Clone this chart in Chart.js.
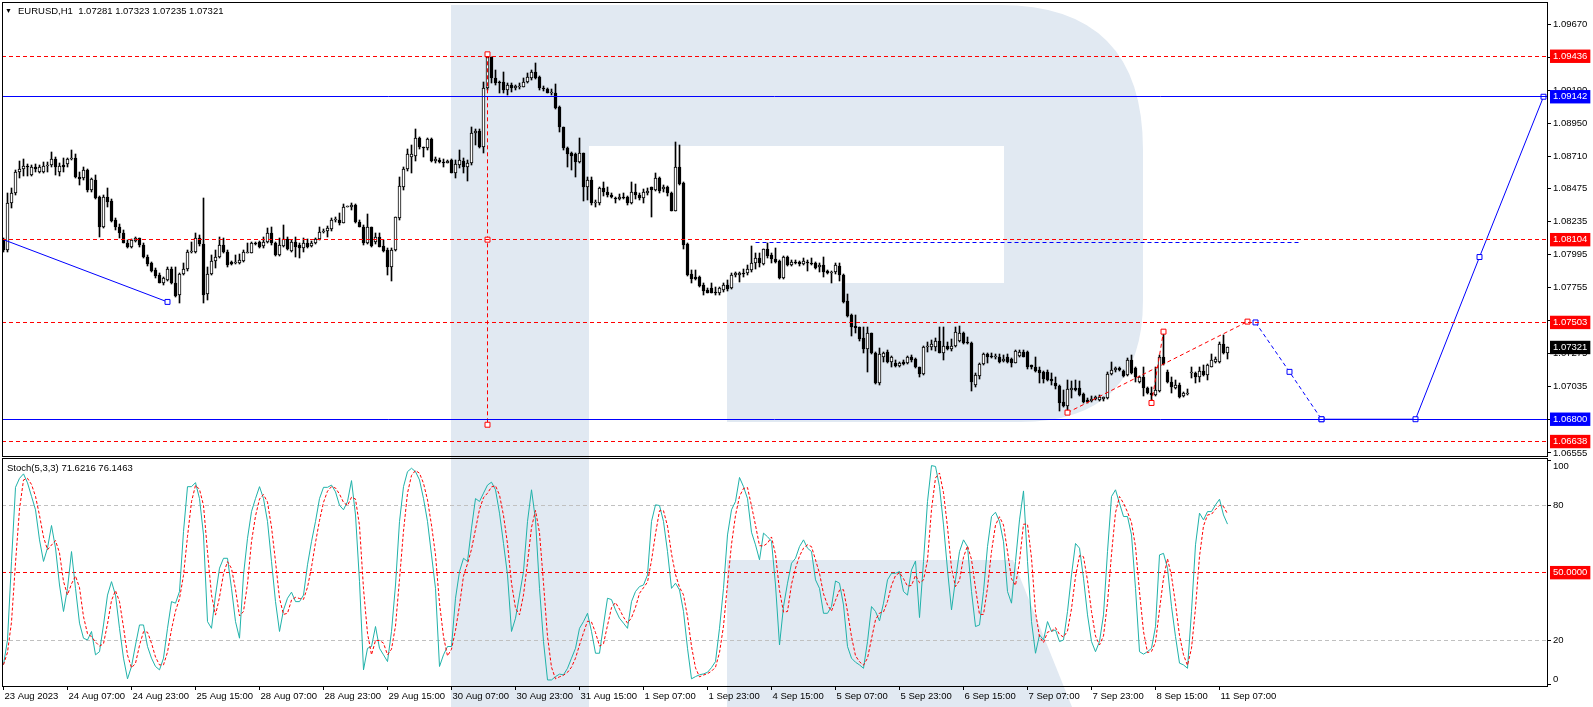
<!DOCTYPE html>
<html>
<head>
<meta charset="utf-8">
<title>EURUSD,H1</title>
<script src="https://cdn.jsdelivr.net/npm/chart.js"></script>
<style>
  body { margin: 0; background: #fff; overflow: hidden; }
  #wrap { position: relative; width: 1593px; height: 707px; }
  canvas { position: absolute; left: 0; }
  #main { top: 0; }
  #stoch { top: 450px; }
  .hdr { position: absolute; font: 9.5px 'Liberation Sans', Arial, sans-serif; line-height: 11px; color: #000; white-space: pre; }
  .tri { font-size: 7px; }
</style>
</head>
<body>
<div id="wrap">
  <canvas id="main" width="1593" height="457"></canvas>
  <canvas id="stoch" width="1593" height="257"></canvas>
  <div class="hdr tri" style="left:5px;top:5px">▼</div>
  <div class="hdr" style="left:18px;top:5px">EURUSD,H1  1.07281 1.07323 1.07235 1.07321</div>
  <div class="hdr" style="left:7px;top:462px">Stoch(5,3,3) 71.6216 76.1463</div>
</div>
<script>
// time axis labels, one every 16 hourly bars
const tickLabels = ['23 Aug 2023', '24 Aug 07:00', '24 Aug 23:00', '25 Aug 15:00', '28 Aug 07:00',
  '28 Aug 23:00', '29 Aug 15:00', '30 Aug 07:00', '30 Aug 23:00', '31 Aug 15:00', '1 Sep 07:00',
  '1 Sep 23:00', '4 Sep 15:00', '5 Sep 07:00', '5 Sep 23:00', '6 Sep 15:00', '7 Sep 07:00',
  '7 Sep 23:00', '8 Sep 15:00', '11 Sep 07:00'];

// EURUSD H1 candles
const openP = [
  1.08102,1.08030,1.08368,1.08441,1.08598,1.08615,1.08640,1.08574,1.08632,1.08598,
  1.08598,1.08640,1.08647,1.08688,1.08598,1.08647,1.08654,1.08688,1.08695,1.08562,
  1.08550,1.08610,1.08465,1.08538,1.08417,1.08194,1.08412,1.08385,1.08248,1.08199,
  1.08156,1.08082,1.08049,1.08097,1.08114,1.08066,1.07981,1.07938,1.07884,1.07848,
  1.07792,1.07812,1.07889,1.07792,1.07703,1.07855,1.07889,1.08017,1.08017,1.08114,
  1.08073,1.07710,1.07855,1.07952,1.07981,1.08066,1.08017,1.07945,1.07933,1.07933,
  1.07952,1.08010,1.08010,1.08082,1.08090,1.08059,1.08090,1.08151,1.08078,1.07993,
  1.08059,1.08107,1.08025,1.08090,1.08066,1.08042,1.08082,1.08059,1.08078,1.08107,
  1.08163,1.08170,1.08180,1.08248,1.08248,1.08228,1.08344,1.08344,1.08356,1.08235,
  1.08199,1.08078,1.08194,1.08090,1.08126,1.08059,1.08030,1.07909,1.08030,1.08260,
  1.08485,1.08615,1.08707,1.08712,1.08840,1.08775,1.08768,1.08833,1.08678,1.08683,
  1.08671,1.08664,1.08682,1.08590,1.08646,1.08677,1.08634,1.08658,1.08876,1.08895,
  1.08774,1.09202,1.09432,1.09275,1.09251,1.09251,1.09190,1.09227,1.09202,1.09215,
  1.09215,1.09251,1.09275,1.09324,1.09287,1.09205,1.09195,1.09171,1.09171,1.09069,
  1.08919,1.08767,1.08735,1.08726,1.08670,1.08731,1.08484,1.08537,1.08368,1.08368,
  1.08477,1.08452,1.08428,1.08404,1.08397,1.08416,1.08416,1.08368,1.08452,1.08428,
  1.08404,1.08445,1.08484,1.08464,1.08549,1.08469,1.08484,1.08445,1.08314,1.08634,
  1.08513,1.08073,1.07855,1.07831,1.07836,1.07775,1.07739,1.07751,1.07727,1.07719,
  1.07739,1.07775,1.07751,1.07848,1.07848,1.07865,1.07860,1.07884,1.07932,1.07969,
  1.07928,1.08034,1.07993,1.07961,1.07952,1.07823,1.07976,1.07920,1.07945,1.07945,
  1.07925,1.07945,1.07937,1.07937,1.07903,1.07920,1.07879,1.07860,1.07872,1.07913,
  1.07848,1.07661,1.07557,1.07477,1.07468,1.07388,1.07308,1.07424,1.07284,1.07061,
  1.07250,1.07291,1.07219,1.07211,1.07187,1.07219,1.07206,1.07255,1.07235,1.07177,
  1.07129,1.07323,1.07323,1.07327,1.07371,1.07279,1.07332,1.07308,1.07332,1.07371,
  1.07424,1.07360,1.07352,1.07049,1.07114,1.07202,1.07274,1.07260,1.07250,1.07250,
  1.07226,1.07250,1.07235,1.07211,1.07260,1.07291,1.07291,1.07192,1.07182,1.07158,
  1.07146,1.07146,1.07090,1.07061,1.07042,1.06928,1.06897,1.07013,1.07025,1.07025,
  1.06984,1.06940,1.06935,1.06945,1.06940,1.06945,1.06952,1.07129,1.07158,1.07170,
  1.07153,1.07122,1.07231,1.07170,1.07073,1.07110,1.07025,1.06988,1.06976,1.07007,
  1.07250,1.07146,1.07073,1.07025,1.07049,1.06969,1.06984,1.07134,1.07134,1.07105,
  1.07153,1.07122,1.07182,1.07219,1.07219,1.07347,1.07281];
const highP = [
  1.08114,1.08441,1.08477,1.08610,1.08678,1.08688,1.08654,1.08647,1.08654,1.08647,
  1.08671,1.08671,1.08739,1.08707,1.08659,1.08695,1.08695,1.08756,1.08727,1.08598,
  1.08632,1.08615,1.08550,1.08574,1.08422,1.08429,1.08477,1.08397,1.08260,1.08218,
  1.08175,1.08102,1.08107,1.08126,1.08119,1.08078,1.07993,1.07945,1.07897,1.07860,
  1.07836,1.07909,1.07904,1.07909,1.07865,1.07933,1.08030,1.08090,1.08151,1.08139,
  1.08405,1.07909,1.07993,1.08030,1.08122,1.08114,1.08030,1.07952,1.07993,1.08001,
  1.08030,1.08082,1.08090,1.08090,1.08097,1.08126,1.08187,1.08194,1.08090,1.08114,
  1.08211,1.08126,1.08102,1.08126,1.08082,1.08114,1.08107,1.08097,1.08114,1.08194,
  1.08180,1.08204,1.08260,1.08272,1.08296,1.08364,1.08352,1.08368,1.08361,1.08248,
  1.08211,1.08291,1.08199,1.08151,1.08151,1.08102,1.08042,1.08042,1.08272,1.08562,
  1.08632,1.08760,1.08792,1.08906,1.08848,1.08780,1.08840,1.08840,1.08707,1.08695,
  1.08688,1.08683,1.08687,1.08682,1.08755,1.08694,1.08682,1.08924,1.08905,1.08905,
  1.09251,1.09436,1.09434,1.09336,1.09255,1.09324,1.09239,1.09239,1.09227,1.09239,
  1.09275,1.09311,1.09336,1.09389,1.09292,1.09219,1.09202,1.09195,1.09234,1.09074,
  1.08924,1.08779,1.08743,1.08731,1.08839,1.08735,1.08561,1.08561,1.08392,1.08489,
  1.08525,1.08489,1.08440,1.08416,1.08435,1.08440,1.08421,1.08525,1.08508,1.08440,
  1.08469,1.08477,1.08489,1.08585,1.08556,1.08501,1.08493,1.08452,1.08815,1.08791,
  1.08520,1.08078,1.07884,1.07884,1.07840,1.07787,1.07751,1.07787,1.07758,1.07763,
  1.07787,1.07811,1.07860,1.07872,1.07872,1.07889,1.07920,1.08058,1.08005,1.08005,
  1.08039,1.08078,1.08010,1.08041,1.07957,1.07986,1.07986,1.07957,1.07957,1.07952,
  1.07969,1.07957,1.07969,1.07945,1.07932,1.07981,1.07884,1.07879,1.07932,1.07932,
  1.07855,1.07710,1.07565,1.07557,1.07473,1.07468,1.07468,1.07429,1.07291,1.07315,
  1.07291,1.07303,1.07260,1.07231,1.07219,1.07231,1.07260,1.07267,1.07243,1.07182,
  1.07332,1.07364,1.07376,1.07388,1.07473,1.07473,1.07364,1.07381,1.07473,1.07477,
  1.07436,1.07400,1.07364,1.07134,1.07211,1.07284,1.07284,1.07284,1.07274,1.07274,
  1.07267,1.07274,1.07243,1.07303,1.07303,1.07303,1.07298,1.07194,1.07250,1.07182,
  1.07153,1.07158,1.07134,1.07110,1.07049,1.07013,1.07085,1.07081,1.07085,1.07081,
  1.06988,1.06952,1.06969,1.06969,1.06976,1.06964,1.07146,1.07219,1.07182,1.07177,
  1.07158,1.07243,1.07267,1.07182,1.07114,1.07177,1.07037,1.07037,1.07182,1.07267,
  1.07440,1.07158,1.07110,1.07085,1.07061,1.07000,1.07018,1.07182,1.07146,1.07182,
  1.07194,1.07202,1.07274,1.07250,1.07364,1.07412,1.07323];
const lowP = [
  1.08017,1.08017,1.08332,1.08429,1.08550,1.08567,1.08567,1.08567,1.08598,1.08586,
  1.08586,1.08598,1.08632,1.08574,1.08567,1.08598,1.08632,1.08683,1.08550,1.08502,
  1.08538,1.08453,1.08453,1.08397,1.08126,1.08187,1.08344,1.08235,1.08175,1.08114,
  1.08078,1.08042,1.08042,1.08090,1.08054,1.07969,1.07913,1.07870,1.07824,1.07788,
  1.07776,1.07807,1.07783,1.07686,1.07647,1.07848,1.07880,1.08010,1.08005,1.08059,
  1.07642,1.07667,1.07848,1.07897,1.07969,1.08005,1.07904,1.07921,1.07928,1.07928,
  1.07945,1.08005,1.08005,1.08066,1.08042,1.08042,1.08082,1.08066,1.07986,1.07986,
  1.08049,1.08030,1.08017,1.07981,1.07969,1.08017,1.08042,1.08049,1.08073,1.08102,
  1.08156,1.08122,1.08170,1.08235,1.08211,1.08223,1.08339,1.08320,1.08228,1.08194,
  1.08066,1.08073,1.08054,1.08073,1.08049,1.08017,1.07848,1.07807,1.08025,1.08248,
  1.08465,1.08606,1.08591,1.08678,1.08760,1.08707,1.08756,1.08671,1.08659,1.08664,
  1.08630,1.08659,1.08585,1.08549,1.08622,1.08585,1.08532,1.08646,1.08791,1.08767,
  1.08735,1.09190,1.09239,1.09227,1.09166,1.09171,1.09154,1.09178,1.09190,1.09195,
  1.09210,1.09244,1.09263,1.09268,1.09190,1.09186,1.09166,1.09154,1.09050,1.08888,
  1.08755,1.08634,1.08610,1.08561,1.08658,1.08387,1.08392,1.08356,1.08339,1.08356,
  1.08421,1.08416,1.08404,1.08368,1.08392,1.08397,1.08356,1.08363,1.08397,1.08392,
  1.08368,1.08428,1.08271,1.08460,1.08445,1.08452,1.08421,1.08314,1.08314,1.08500,
  1.08034,1.07840,1.07787,1.07811,1.07763,1.07703,1.07715,1.07715,1.07703,1.07703,
  1.07727,1.07734,1.07746,1.07831,1.07799,1.07836,1.07848,1.07872,1.07889,1.07903,
  1.07920,1.07969,1.07937,1.07932,1.07819,1.07819,1.07913,1.07915,1.07928,1.07913,
  1.07920,1.07879,1.07923,1.07889,1.07872,1.07836,1.07855,1.07792,1.07855,1.07807,
  1.07647,1.07540,1.07405,1.07424,1.07371,1.07279,1.07146,1.07274,1.07056,1.07049,
  1.07219,1.07211,1.07182,1.07182,1.07182,1.07194,1.07202,1.07219,1.07170,1.07110,
  1.07122,1.07291,1.07303,1.07298,1.07279,1.07231,1.07303,1.07298,1.07323,1.07364,
  1.07347,1.07347,1.07007,1.07037,1.07090,1.07194,1.07211,1.07243,1.07235,1.07211,
  1.07219,1.07211,1.07182,1.07206,1.07250,1.07250,1.07168,1.07163,1.07143,1.07066,
  1.07061,1.07081,1.07049,1.07018,1.06860,1.06892,1.06848,1.06952,1.07007,1.06969,
  1.06921,1.06921,1.06928,1.06940,1.06935,1.06935,1.06945,1.07122,1.07146,1.07153,
  1.07110,1.07114,1.07129,1.07073,1.07066,1.06969,1.06984,1.06904,1.06969,1.07000,
  1.07194,1.07061,1.06993,1.07018,1.06952,1.06960,1.06976,1.07098,1.07066,1.07073,
  1.07114,1.07085,1.07177,1.07211,1.07206,1.07274,1.07235];
const closeP = [
  1.08030,1.08368,1.08441,1.08598,1.08615,1.08640,1.08630,1.08632,1.08615,1.08630,
  1.08640,1.08647,1.08688,1.08632,1.08640,1.08632,1.08688,1.08695,1.08557,1.08543,
  1.08610,1.08465,1.08543,1.08405,1.08199,1.08417,1.08380,1.08243,1.08199,1.08151,
  1.08082,1.08049,1.08102,1.08114,1.08066,1.07981,1.07928,1.07880,1.07841,1.07792,
  1.07824,1.07889,1.07792,1.07696,1.07855,1.07889,1.08017,1.08025,1.08114,1.08073,
  1.07703,1.07855,1.07952,1.07981,1.08066,1.08017,1.07921,1.07928,1.07945,1.07957,
  1.08017,1.08017,1.08082,1.08073,1.08054,1.08090,1.08151,1.08078,1.07993,1.08066,
  1.08107,1.08034,1.08090,1.08049,1.08042,1.08082,1.08054,1.08078,1.08107,1.08163,
  1.08170,1.08187,1.08248,1.08252,1.08223,1.08344,1.08349,1.08356,1.08235,1.08199,
  1.08078,1.08194,1.08059,1.08122,1.08054,1.08025,1.07909,1.08030,1.08267,1.08494,
  1.08615,1.08727,1.08727,1.08840,1.08775,1.08768,1.08833,1.08678,1.08688,1.08671,
  1.08664,1.08678,1.08590,1.08653,1.08682,1.08634,1.08663,1.08876,1.08895,1.08774,
  1.09202,1.09432,1.09275,1.09244,1.09244,1.09190,1.09227,1.09202,1.09219,1.09219,
  1.09251,1.09287,1.09324,1.09275,1.09202,1.09195,1.09171,1.09180,1.09057,1.08919,
  1.08767,1.08726,1.08711,1.08670,1.08731,1.08484,1.08537,1.08368,1.08380,1.08477,
  1.08452,1.08428,1.08411,1.08397,1.08411,1.08404,1.08368,1.08452,1.08428,1.08404,
  1.08452,1.08460,1.08464,1.08549,1.08460,1.08484,1.08445,1.08314,1.08634,1.08508,
  1.08065,1.07848,1.07816,1.07816,1.07768,1.07734,1.07719,1.07719,1.07719,1.07751,
  1.07775,1.07744,1.07848,1.07860,1.07865,1.07855,1.07889,1.07937,1.07969,1.07932,
  1.08034,1.07986,1.07961,1.07945,1.07823,1.07976,1.07920,1.07945,1.07937,1.07928,
  1.07952,1.07932,1.07928,1.07896,1.07920,1.07872,1.07860,1.07872,1.07920,1.07848,
  1.07654,1.07550,1.07468,1.07461,1.07381,1.07308,1.07424,1.07279,1.07066,1.07274,
  1.07279,1.07219,1.07250,1.07187,1.07211,1.07202,1.07255,1.07231,1.07177,1.07129,
  1.07327,1.07332,1.07347,1.07371,1.07284,1.07332,1.07308,1.07332,1.07436,1.07429,
  1.07356,1.07352,1.07073,1.07122,1.07202,1.07274,1.07255,1.07250,1.07260,1.07219,
  1.07240,1.07219,1.07211,1.07298,1.07291,1.07255,1.07177,1.07177,1.07153,1.07134,
  1.07090,1.07085,1.07081,1.07042,1.06921,1.06897,1.07018,1.07025,1.07013,1.06976,
  1.06928,1.06928,1.06945,1.06960,1.06960,1.06960,1.07129,1.07158,1.07170,1.07158,
  1.07114,1.07231,1.07134,1.07110,1.07110,1.07025,1.06988,1.06976,1.07013,1.07250,
  1.07202,1.07073,1.07032,1.07049,1.06964,1.06988,1.06993,1.07146,1.07105,1.07153,
  1.07122,1.07194,1.07231,1.07235,1.07347,1.07279,1.07321];

// Stochastic(5,3,3): main line and signal line
const stochK = [
  9,20,55,88,92,94,90,84,78,64.6,
  55,61,71,61,44.5,32.7,43,59.4,43,27.5,
  20.8,20,23.8,13.4,14.8,26.7,40,46,40,25.2,
  11.9,2.7,8.2,17.8,26.7,26.7,17.1,11.9,8.2,6.7,
  11.9,25.2,37.1,36.4,41.6,68.3,88.3,88.3,90.1,83,
  66.8,28.2,25.2,40,52,56.4,56.4,43,28.2,20.8,
  49,65.3,77.2,83,88.3,83,72.8,55,37.1,23.8,
  33.4,38.6,41.3,37.1,37.1,40,53.5,63.8,72.8,83,
  88,88,89,86,80,78,81.7,91,75.7,46,
  6.7,16.3,17.1,26,16.3,13.4,10.4,23.8,44.5,72.8,
  88.3,95,96.5,95,91.3,83,72.8,57.9,43,8.2,
  13.4,17.1,17.1,38.6,50.5,56.4,55,69.8,83,81.7,
  85.4,89,90.3,86.9,76.5,63,49,23.8,29.7,40,
  50.5,72.8,86.9,73.5,43,19.3,2.2,2.2,3.7,4.8,
  4.5,7.4,11.9,16.3,25.2,28.2,31.9,23.8,14.1,14.1,
  26.7,38.6,38,33.4,29.7,27.5,25.2,37.1,41.6,43.8,
  44.5,49,72.8,80.2,79.9,72.8,59.4,43,45.3,42.3,
  32.7,16.3,2.7,3.7,4.5,4.9,5.6,7.7,10.4,25.2,
  43,66.8,78,81.7,92.4,88.3,83,68,62.4,55.7,
  67.6,66,64,44.5,17.8,34.9,45.3,54.2,56.4,61.6,
  64.6,60.9,59.4,46.8,43,31.9,31.9,34.9,46.3,45.3,
  35.6,17.1,11.9,10.1,8.9,7.4,19.3,34.9,32.7,28.5,
  36.4,46.8,49.7,49.7,50.5,41.6,40,51.2,55.2,30,
  55,81.7,97.7,97.3,88.3,71.3,51.2,33.4,46.8,59.4,
  64.6,61.6,41.6,26,26.7,41.6,61.6,75,76.9,72.8,
  63.8,41.6,36.4,55,73.5,86.4,55,28.2,14.1,22.3,
  20,28.2,23.8,24.5,19.3,20,32.7,49,63,60.9,
  47.5,31.2,19.3,14.8,19.3,31.2,59.4,83.9,86.9,80.9,
  75,75,66.8,43,14.8,13.7,14.8,16.3,26,57.9,
  58.6,52,34.9,21.5,9.7,8.9,7.4,32.7,62.4,76.5,
  73.5,77.2,77.2,80.2,82.7,75.7,71.62];
const stochD = [
  9,14.5,28,54.3,78.3,91.3,92,89.3,84,75.5,
  65.9,60.2,62.3,64.3,58.8,46.1,40.1,45,48.5,43.3,
  30.4,22.8,21.5,19.1,17.3,18.3,27.2,37.6,42,37.1,
  25.7,13.3,7.6,9.6,17.6,23.7,23.5,18.6,12.4,8.9,
  8.9,14.6,24.7,32.9,38.4,48.8,66.1,81.6,88.9,87.1,
  80,59.3,40.1,31.1,39.1,49.5,54.9,51.9,42.5,30.7,
  32.7,45,63.8,75.2,82.8,84.8,81.4,70.3,55,38.6,
  31.4,31.9,37.8,39,38.5,38.1,43.5,52.4,63.4,73.2,
  81.3,86.3,88.3,87.7,85,81.3,79.9,83.6,82.8,70.9,
  42.8,23,13.4,19.8,19.8,18.6,13.4,15.9,26.2,47,
  68.5,85.4,93.3,95.5,94.3,89.8,82.4,71.2,57.9,36.4,
  21.5,12.9,15.9,24.3,35.4,48.5,54,60.4,69.3,78.2,
  83.4,85.4,88.2,88.7,84.6,75.5,62.8,45.3,34.2,31.2,
  40.1,54.4,70.1,77.7,67.8,45.3,21.5,7.9,2.7,3.6,
  4.3,5.6,7.9,11.9,17.8,23.2,28.4,28,23.3,17.3,
  18.3,26.5,34.4,36.7,33.7,30.2,27.5,29.9,34.6,40.8,
  43.3,45.8,55.4,67.3,77.6,77.6,70.7,58.4,49.2,43.5,
  40.1,30.4,17.2,7.6,3.6,4.4,5,6.1,7.9,14.4,
  26.2,45,62.6,75.5,84,87.5,87.9,79.8,71.1,62,
  61.9,63.1,65.9,58.2,42.1,32.4,32.7,44.8,52,57.4,
  60.9,62.4,61.6,55.7,49.7,40.6,35.6,32.9,37.7,42.2,
  42.4,32.7,21.5,13,10.3,8.8,11.9,20.5,29,32,
  32.5,37.2,44.3,48.7,50,47.3,44,44.3,48.8,45.5,
  46.7,55.6,78.1,92.2,94.4,85.6,70.3,52,43.8,46.5,
  56.9,61.9,55.9,43.1,31.4,31.4,43.3,59.4,71.2,74.9,
  71.2,59.4,47.3,44.3,55,71.6,71.6,56.5,32.4,21.5,
  18.8,23.5,24,25.5,22.5,21.3,24,33.9,48.2,57.6,
  57.1,46.5,32.7,21.8,17.8,21.8,36.6,58.2,76.7,83.9,
  80.9,77,72.3,61.6,41.5,23.8,14.4,14.9,19,33.4,
  47.5,56.2,48.5,36.1,22,13.4,8.7,16.3,34.2,57.2,
  70.8,75.7,76,78.2,80,79.5,76.15];

// price scale ticks and the marked levels shown on it
const priceTicks = [1.09670, 1.09430, 1.09190, 1.08950, 1.08710, 1.08475, 1.08235,
  1.07995, 1.07755, 1.07515, 1.07275, 1.07035, 1.06795, 1.06555];
const levelPrices = [1.09436, 1.09142, 1.08104, 1.07503, 1.07321, 1.06800, 1.06638];
const levelColors = ['#ff0000', '#0000ff', '#ff0000', '#ff0000', '#000000', '#0000ff', '#ff0000'];

// drawn objects: [bar index, price]
const redLevels = [1.09436, 1.08104, 1.07503, 1.06638];
const blueLevels = [1.09142, 1.06800];
const blueDashLevel = [[188, 1.08080], [324, 1.08080]];
const trendBlue = [[0, 1.08104], [41, 1.07652]];
const vertRed = [[121, 1.09450], [121, 1.08104], [121, 1.06760]];
const trendRed = [[266, 1.06848], [311, 1.07509]];
const spikeRed = [[287, 1.06918], [290, 1.07436]];
const projDash = [[313, 1.07503], [321.5, 1.07144], [329.5, 1.06800]];
const projSolid = [[329.5, 1.06800], [353, 1.06800], [369, 1.07978], [385, 1.09142]];

const stochTicks = [100, 80, 20, 0];
const stochLevels = [80, 20];
const stochMid = 50;

const xMin = -0.375, xMax = 385.875;
const font = { family: "'Liberation Sans', Arial, sans-serif", size: 9.5 };
const RED = '#ff0000', BLUE = '#0000ff';

function pts(arr) { return arr.map(p => ({ x: p[0], y: p[1] })); }
function hLine(v) { return [{ x: xMin, y: v }, { x: xMax, y: v }]; }
function noPad(s) { s.paddingTop = 0; s.paddingBottom = 0; s.paddingLeft = 0; s.paddingRight = 0; }

function lineSet(data, color, dash, marks) {
  return {
    type: 'line', data: data, borderColor: color, borderWidth: 1, borderDash: dash || [],
    pointRadius: marks || 0, pointStyle: 'rect', pointBackgroundColor: '#fff',
    pointBorderColor: color, pointBorderWidth: 1, tension: 0, order: 0
  };
}
function levelSet(v, color, dash) {
  return Object.assign(lineSet(hLine(v), color, dash), { snapLine: true });
}

// the terminal draws on whole pixels: snap level lines and candle ends
const crisp = {
  id: 'crisp',
  afterDatasetsUpdate(chart) {
    chart.data.datasets.forEach((ds, i) => {
      const meta = chart.getDatasetMeta(i);
      if (ds.snapLine) meta.data.forEach(p => { p.y = Math.floor(p.y) + 0.5; });
      if (ds.snapBar) meta.data.forEach(b => {
        const t = Math.round(Math.min(b.y, b.base));
        let u = Math.round(Math.max(b.y, b.base));
        if (u - t < 1) u = t + 1;
        b.y = t; b.base = u;
      });
    });
  }
};

// background, RoboForex style watermark and panel frame
function panelPlugin(offY, fromY) {
  return {
    id: 'panel' + offY,
    beforeDraw(chart) {
      const ctx = chart.ctx;
      ctx.save();
      ctx.beginPath();
      ctx.rect(0, fromY, chart.width, chart.height - fromY);
      ctx.clip();
      ctx.fillStyle = '#fff';
      ctx.fillRect(0, 0, chart.width, chart.height);
      ctx.translate(0, -offY);
      ctx.fillStyle = '#e1e9f2';
      ctx.fillRect(451, 5, 138, 702);
      ctx.beginPath();
      ctx.moveTo(589, 5);
      ctx.lineTo(1000, 5);
      ctx.quadraticCurveTo(1143, 5, 1143, 150);
      ctx.lineTo(1143, 300);
      ctx.quadraticCurveTo(1143, 422, 1020, 422);
      ctx.lineTo(727, 422);
      ctx.lineTo(727, 283);
      ctx.lineTo(1004, 283);
      ctx.lineTo(1004, 146);
      ctx.lineTo(589, 146);
      ctx.closePath();
      ctx.fill();
      ctx.beginPath();
      ctx.moveTo(727, 560);
      ctx.lineTo(1013, 560);
      ctx.lineTo(1072, 707);
      ctx.lineTo(727, 707);
      ctx.closePath();
      ctx.fill();
      ctx.restore();
    },
    afterDraw(chart) {
      const a = chart.chartArea, ctx = chart.ctx;
      ctx.save();
      ctx.strokeStyle = '#000';
      ctx.lineWidth = 1;
      ctx.strokeRect(a.left + 0.5, a.top + 0.5, a.right - a.left, a.bottom - a.top);
      ctx.restore();
    }
  };
}

// candles: wick bar behind a body bar
const wickData = openP.map((o, i) => ({ x: i, y: [lowP[i], highP[i]] }));
const bodyData = openP.map((o, i) => ({ x: i, y: [o, closeP[i]] }));
const bodyFill = openP.map((o, i) => closeP[i] >= o ? '#ffffff' : '#000000');

const mainSets = [];
redLevels.forEach(v => mainSets.push(levelSet(v, RED, [4, 3])));
blueLevels.forEach(v => mainSets.push(levelSet(v, BLUE)));
mainSets.push(Object.assign(lineSet(pts(blueDashLevel), BLUE, [4, 3]), { snapLine: true }));
const tb = lineSet(pts(trendBlue), BLUE);
tb.pointRadius = [0, 3.5];
mainSets.push(tb);
mainSets.push(lineSet(pts(vertRed), RED, [4, 3], 3.5));
mainSets.push(lineSet(pts(trendRed), RED, [4, 3], 3.5));
mainSets.push(lineSet(pts(spikeRed), RED, [4, 3], 3.5));
mainSets.push(lineSet(pts(projDash), BLUE, [4, 3], 3.5));
mainSets.push(lineSet(pts(projSolid), BLUE, [], 3.5));
mainSets.push({
  type: 'bar', data: bodyData, backgroundColor: bodyFill, borderColor: '#000', borderWidth: 1,
  borderSkipped: false, barThickness: 3, minBarLength: 1, grouped: false, order: 1, snapBar: true
});
mainSets.push({
  type: 'bar', data: wickData, backgroundColor: '#000', borderWidth: 0,
  barThickness: 1, grouped: false, order: 2, snapBar: true
});

const nPlain = priceTicks.length;
new Chart(document.getElementById('main'), {
  type: 'bar',
  data: { datasets: mainSets },
  options: {
    responsive: false, animation: false, events: [],
    layout: { autoPadding: false, padding: { left: 2, top: 2, right: 0, bottom: 1 } },
    plugins: { legend: { display: false }, tooltip: { enabled: false } },
    scales: {
      x: { type: 'linear', min: xMin, max: xMax, offset: false, display: false },
      y: {
        type: 'linear', position: 'right', min: 1.06533, max: 1.09830,
        afterFit(s) { s.width = 46; noPad(s); },
        afterBuildTicks(s) { s.ticks = priceTicks.concat(levelPrices).map(v => ({ value: v })); },
        grid: {
          drawOnChartArea: false, tickLength: 4, color: '#000',
          tickColor: c => c.index < nPlain ? '#000' : 'rgba(0,0,0,0)'
        },
        border: { display: false },
        ticks: {
          autoSkip: false, padding: 2, font: font,
          color: c => c.index < nPlain ? '#000' : '#fff',
          callback: v => v.toFixed(5),
          showLabelBackdrop: c => c.index >= nPlain,
          backdropColor: c => levelColors[c.index - nPlain] || 'rgba(0,0,0,0)',
          backdropPadding: { x: 3, y: 1 }
        }
      }
    }
  },
  plugins: [panelPlugin(0, 0), crisp]
});

const stochSets = [];
stochSets.push({
  type: 'line', data: stochD.map((v, i) => ({ x: i, y: v })), borderColor: RED, borderWidth: 1,
  borderDash: [3, 2], pointRadius: 0, tension: 0, order: 0
});
stochSets.push({
  type: 'line', data: stochK.map((v, i) => ({ x: i, y: v })), borderColor: '#20b2aa', borderWidth: 1,
  pointRadius: 0, tension: 0, order: 1
});
stochLevels.forEach(v => stochSets.push(Object.assign(levelSet(v, '#c0c0c0', [4, 3]), { order: 2 })));
stochSets.push(Object.assign(levelSet(stochMid, RED, [4, 3]), { order: 2 }));

// top and bottom scale labels sit inside the panel, as in the terminal
function stochLabel(v) {
  if (v === stochMid) return stochMid.toFixed(4);
  if (v === 100) return ['', '100'];
  if (v === 0) return ['0', ''];
  return String(v);
}

const nStoch = stochTicks.length;
new Chart(document.getElementById('stoch'), {
  type: 'line',
  data: { datasets: stochSets },
  options: {
    responsive: false, animation: false, events: [],
    layout: { autoPadding: false, padding: { left: 2, top: 8, right: 0, bottom: 0 } },
    plugins: { legend: { display: false }, tooltip: { enabled: false } },
    scales: {
      x: {
        type: 'linear', position: 'bottom', min: xMin, max: xMax, offset: false,
        afterFit(s) { s.height = 21; noPad(s); },
        afterBuildTicks(s) { s.ticks = tickLabels.map((t, k) => ({ value: k * 16 })); },
        grid: { drawOnChartArea: false, tickLength: 4, color: '#000' },
        border: { display: false },
        ticks: {
          autoSkip: false, maxRotation: 0, minRotation: 0, align: 'start', labelOffset: 1,
          padding: 1, font: font, color: '#000',
          callback: v => tickLabels[Math.round(v / 16)]
        }
      },
      y: {
        type: 'linear', position: 'right', min: -0.49, max: 101.07,
        afterFit(s) { s.width = 46; noPad(s); },
        afterBuildTicks(s) { s.ticks = stochTicks.concat([stochMid]).map(v => ({ value: v })); },
        grid: {
          drawOnChartArea: false, tickLength: 4, color: '#000',
          tickColor: c => c.index < nStoch ? '#000' : 'rgba(0,0,0,0)'
        },
        border: { display: false },
        ticks: {
          autoSkip: false, padding: 2, font: font,
          color: c => c.index < nStoch ? '#000' : '#fff',
          callback: stochLabel,
          showLabelBackdrop: c => c.index >= nStoch,
          backdropColor: RED,
          backdropPadding: { x: 3, y: 1 }
        }
      }
    }
  },
  plugins: [panelPlugin(450, 7), crisp]
});
</script>
</body>
</html>
